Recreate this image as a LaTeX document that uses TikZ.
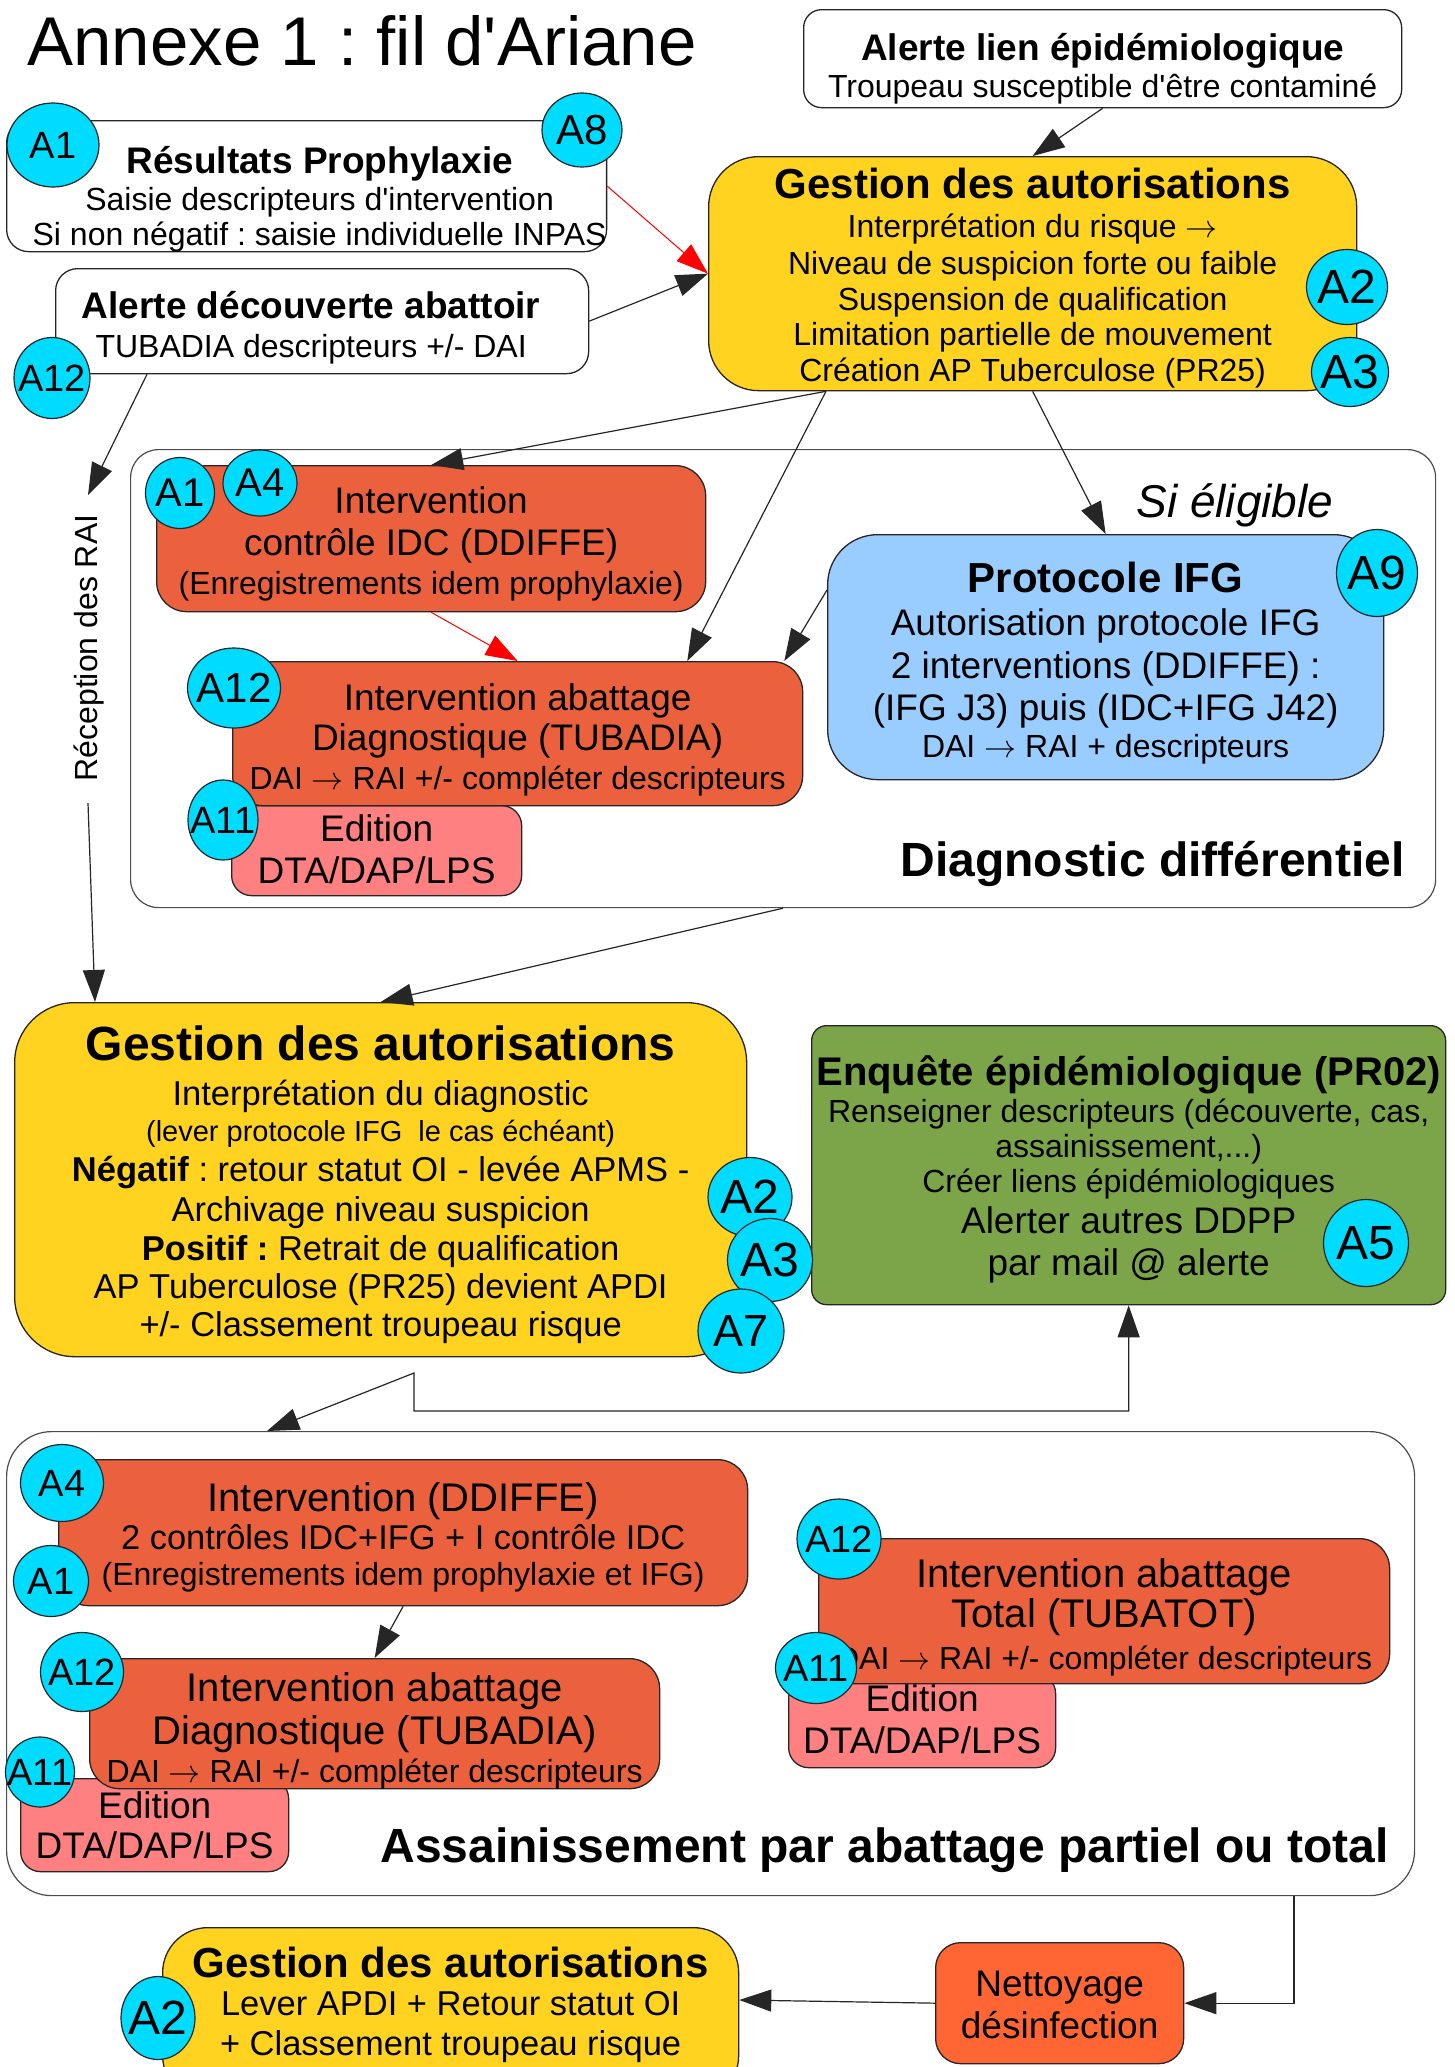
\RequirePackage{fix-cm}
\documentclass[tikz,border=0pt]{standalone}
\usepackage{fontspec}
\setmainfont{Liberation Sans}[Ligatures=TeXOff]
\usetikzlibrary{shapes.geometric, arrows.meta, calc}

\definecolor{jaune}{HTML}{FFD320}
\definecolor{orangeI}{HTML}{EB613D}
\definecolor{rose}{HTML}{FF8080}
\definecolor{bleuIFG}{HTML}{99CCFF}
\definecolor{vertE}{HTML}{7BA548}
\definecolor{cyanA}{HTML}{00DCFF}
\definecolor{orangeN}{HTML}{FF6633}

\newcommand{\taille}[1]{\fontsize{#1pt}{0pt}\selectfont}
\newcommand{\decale}[1]{\hspace*{#1pt}}
\newcommand{\vers}{\ensuremath{\rightarrow}}
\lineskiplimit=-1000pt

\begin{document}
\frenchspacing
\begin{tikzpicture}[x=1pt, y=-1pt,
    txt/.style={font=\taille{#1}},
    boite/.style={draw=black!85, line width=1.3pt, rounded corners=#1pt,
      anchor=north west, inner sep=0pt, align=center},
    cadre/.style={draw=black!70, line width=1.2pt, rounded corners=#1pt,
      anchor=north west, inner sep=0pt},
    pastille/.style 2 args={ellipse, draw=black!85, line width=1.2pt, fill=cyanA,
      minimum width=#1pt, minimum height=#2pt, inner sep=-14pt, font=\taille{38}},
    grande/.style={font=\taille{48}},
    fleche/.style={draw=black!85, line width=1.2pt, -{Triangle[length=32pt, width=22pt]}},
    fleches/.style={draw=black!85, line width=1.2pt,
      {Triangle[length=32pt, width=22pt]}-{Triangle[length=32pt, width=22pt]}},
    rouge/.style={draw=red, line width=1pt, -{Triangle[length=32pt, width=22pt]}}
  ]
  \useasboundingbox (0,0) rectangle (1454,2067);
  \fill[white] (0,0) rectangle (1454,2067);
  \clip (0,0) rectangle (1454,2067);

  \node[anchor=base west, font=\taille{69}] (titre) at (24,65) {Annexe 1 : fil d'Ariane};

  % cadres
  \node[cadre=28, minimum width=1305pt, minimum height=458pt] (diag) at (130,449) {};
  \node[cadre=45, minimum width=1408pt, minimum height=464pt] (assain) at (6,1431) {};
  \node[anchor=base east, font=\taille{48}\bfseries] (diagtitre) at (1408,876) {Diagnostic différentiel};
  \node[anchor=base west, font=\taille{46}\itshape] (eligible) at (1133,517) {Si éligible};
  \node[anchor=base west, font=\taille{48}\bfseries] (assaintitre) at (377,1862) {Assainissement par abattage partiel ou total};

  % alertes
  \node[boite=18, fill=white, minimum width=598pt, text height=87.5pt, text depth=10.5pt, txt=32] (alerte) at (803,9)
    {{\taille{37}\bfseries Alerte lien épidémiologique}\\[36.5pt]
     Troupeau susceptible d'être contaminé};
  \node[boite=22, fill=white, minimum width=599pt, text height=124.5pt, text depth=6.5pt, txt=32] (resultats) at (6,120)
    {\decale{26}{\taille{37}\bfseries Résultats Prophylaxie}\\[36.5pt]
     \decale{26}Saisie descripteurs d'intervention\\[35pt]
     \decale{26}Si non négatif : saisie individuelle INPAS};
  \node[boite=22, fill=white, minimum width=533pt, text height=88.5pt, text depth=16.5pt, txt=32] (decouverte) at (55,268)
    {{\taille{37}\bfseries Alerte découverte abattoir}\decale{22}\\[38.5pt]
     TUBADIA descripteurs +/- DAI\decale{22}};

  \node[boite=50, fill=jaune, minimum width=648pt, text height=224.5pt, text depth=9.5pt, txt=32] (gestA) at (708,156)
    {{\taille{42}\bfseries Gestion des autorisations}\\[38.5pt]
     Interprétation du risque \vers\\[37pt]
     Niveau de suspicion forte ou faible\\[36pt]
     Suspension de qualification\\[35pt]
     Limitation partielle de mouvement\\[36pt]
     Création AP Tuberculose (PR25)};

  % diagnostic differentiel
  \node[boite=30, fill=orangeI, minimum width=549pt, text height=128.5pt, text depth=17.5pt, txt=37] (idc) at (156,465)
    {Intervention\\[42pt]
     contrôle IDC (DDIFFE)\\[38.5pt]
     {\taille{32}(Enregistrements idem prophylaxie)}};
  \node[boite=20, fill=rose, minimum width=290pt, text height=78pt, text depth=12pt, txt=37] (editionA) at (231,805)
    {Edition\\[42pt] DTA/DAP/LPS};
  \node[boite=30, fill=orangeI, minimum width=570pt, text height=127.5pt, text depth=16.5pt, txt=37] (tubadiaA) at (232,661)
    {Intervention abattage\\[40pt]
     Diagnostique (TUBADIA)\\[38.5pt]
     {\taille{32}DAI \vers{} RAI +/- compléter descripteurs}};
  \node[boite=50, fill=bleuIFG, minimum width=556pt, text height=222.5pt, text depth=22.5pt, txt=37] (ifg) at (827,534)
    {{\taille{42}\bfseries Protocole IFG}\\[43pt]
     Autorisation protocole IFG\\[43pt]
     2 interventions (DDIFFE) :\\[42pt]
     (IFG J3) puis (IDC+IFG J42)\\[36.5pt]
     {\taille{32}DAI \vers{} RAI + descripteurs}};

  \node[rotate=90, anchor=base, font=\taille{32}] (recep) at (97,648) {Réception des RAI};

  \node[boite=60, fill=jaune, minimum width=732pt, text height=333.5pt, text depth=20.5pt, txt=34.5] (gestB) at (14,1002)
    {{\taille{48}\bfseries Gestion des autorisations}\\[44.5pt]
     Interprétation du diagnostic\\[36pt]
     {\taille{29}(lever protocole IFG\ \ le cas échéant)}\\[40pt]
     \textbf{Négatif} : retour statut OI - levée APMS -\\[40pt]
     Archivage niveau suspicion\\[39pt]
     \textbf{Positif :} Retrait de qualification\\[38pt]
     AP Tuberculose (PR25) devient APDI\\[38pt]
     +/- Classement troupeau risque};
  \node[boite=15, fill=vertE, minimum width=634pt, text height=250pt, text depth=29pt, txt=32] (enquete) at (811,1025)
    {{\taille{40}\bfseries Enquête épidémiologique (PR02)}\\[37pt]
     Renseigner descripteurs (découverte, cas,\\[35pt]
     assainissement,...)\\[35pt]
     Créer liens épidémiologiques\\[41.5pt]
     {\taille{37}Alerter autres DDPP}\\[42pt]
     {\taille{37}par mail @ alerte}};

  % assainissement
  \node[boite=30, fill=orangeI, minimum width=689pt, text height=125.5pt, text depth=20.5pt, txt=32] (ddiffe) at (58,1459)
    {{\taille{40}Intervention (DDIFFE)}\\[38pt]
     {\taille{34.4}2 contrôles IDC+IFG + I contrôle IDC}\\[35.5pt]
     (Enregistrements idem prophylaxie et IFG)};
  \node[boite=20, fill=rose, minimum width=268pt, text height=80pt, text depth=13pt, txt=37] (editionB) at (20,1778)
    {Edition\\[40pt] DTA/DAP/LPS};
  \node[boite=30, fill=orangeI, minimum width=570pt, text height=123.5pt, text depth=6.5pt, txt=40] (tubadiaB) at (89,1658)
    {Intervention abattage\\[43pt]
     Diagnostique (TUBADIA)\\[37.5pt]
     {\taille{32}DAI \vers{} RAI +/- compléter descripteurs}};
  \node[boite=20, fill=rose, minimum width=267pt, text height=80pt, text depth=14pt, txt=37] (editionC) at (788,1673)
    {Edition\\[42pt] DTA/DAP/LPS};
  \node[boite=30, fill=orangeI, minimum width=571pt, text height=130.5pt, text depth=14.5pt, txt=40] (tubatot) at (818,1538)
    {Intervention abattage\\[40pt]
     Total (TUBATOT)\\[41.5pt]
     {\taille{32}DAI \vers{} RAI +/- compléter descripteurs}};

  % fin
  \node[boite=25, fill=orangeN, minimum width=248pt, text height=96pt, text depth=25pt, txt=37] (nettoyage) at (935,1942)
    {Nettoyage\\[42pt] désinfection};
  \node[boite=45, fill=jaune, minimum width=576pt, text height=128pt, text depth=45pt, txt=34.5] (gestC) at (162,1927)
    {{\taille{42}\bfseries Gestion des autorisations}\\[38pt]
     Lever APDI + Retour statut OI\\[40pt]
     + Classement troupeau risque};

  % liens
  \coordinate (gA1) at ($(gestA.south west)+(118,0)$);
  \coordinate (raiHaut) at (88,495);
  \coordinate (raiBas) at (88,803);
  \coordinate (coude) at (414,1373);
  \draw[rouge] (resultats.east) -- (gestA.west);
  \draw[fleche] (decouverte.east) -- (gestA.west);
  \draw[fleche] (alerte.south) -- (gestA.north);
  \draw[fleche] (gA1) -- (idc.north);
  \draw[fleche] (gA1) -- ($(tubadiaA.north east)+(-116,0)$);
  \draw[fleche] (gestA.south) -- (ifg.north);
  \draw[fleche] ($(ifg.north west)+(0,56)$) -- ($(tubadiaA.north east)+(-19,0)$);
  \draw[rouge] (idc.south) -- (tubadiaA.north);
  \draw[fleche] ($(decouverte.south west)+(92,0)$) -- (raiHaut);
  \draw[fleche] (raiBas) -- ($(gestB.north west)+(81,0)$);
  \draw[fleche] ($(diag.south west)+(653,0)$) -- (gestB.north);
  \draw[fleches] ($(assain.north west)+(261,0)$) -- (coude) -- ++(0,38) -| (enquete.south);
  \draw[fleche] (ddiffe.south) -- (tubadiaB.north);
  \draw[fleche] ($(assain.south west)+(1288,0)$) |- (nettoyage.east);
  \draw[fleche] (nettoyage.west) -- ($(gestC.north east)+(0,73)$);

  % pastilles
  \node[pastille={92}{84}] (t1a) at (53,145) {A1};
  \node[pastille={80}{74}, font=\taille{42}] (t8) at (582,130) {A8};
  \node[pastille={76}{81}] (t12a) at (52,378) {A12};
  \node[pastille={81}{75}, grande] (t2a) at (1347,287) {A2};
  \node[pastille={77}{69}, grande] (t3a) at (1350,372) {A3};
  \node[pastille={69}{71}, font=\taille{40}] (t1b) at (180,493) {A1};
  \node[pastille={74}{66}, font=\taille{40}] (t4b) at (260,483) {A4};
  \node[pastille={93}{80}, font=\taille{42}] (t12b) at (234,688) {A12};
  \node[pastille={70}{80}] (t11b) at (223,820) {A11};
  \node[pastille={81}{87}, grande] (t9) at (1377,573) {A9};
  \node[pastille={84}{79}, grande] (t2b) at (750,1197) {A2};
  \node[pastille={85}{83}, grande] (t3b) at (770,1260) {A3};
  \node[pastille={86}{84}, font=\taille{45}] (t7) at (741,1331) {A7};
  \node[pastille={85}{87}, grande] (t5) at (1366,1243) {A5};
  \node[pastille={83}{77}] (t4c) at (62,1483) {A4};
  \node[pastille={75}{71}] (t1c) at (51,1581) {A1};
  \node[pastille={83}{79}] (t12c) at (82,1672) {A12};
  \node[pastille={69}{70}] (t11c) at (40,1772) {A11};
  \node[pastille={84}{80}] (t12d) at (839,1539) {A12};
  \node[pastille={81}{71}] (t11d) at (816,1668) {A11};
  \node[pastille={74}{83}, grande] (t2c) at (158,2018) {A2};
\end{tikzpicture}
\end{document}
